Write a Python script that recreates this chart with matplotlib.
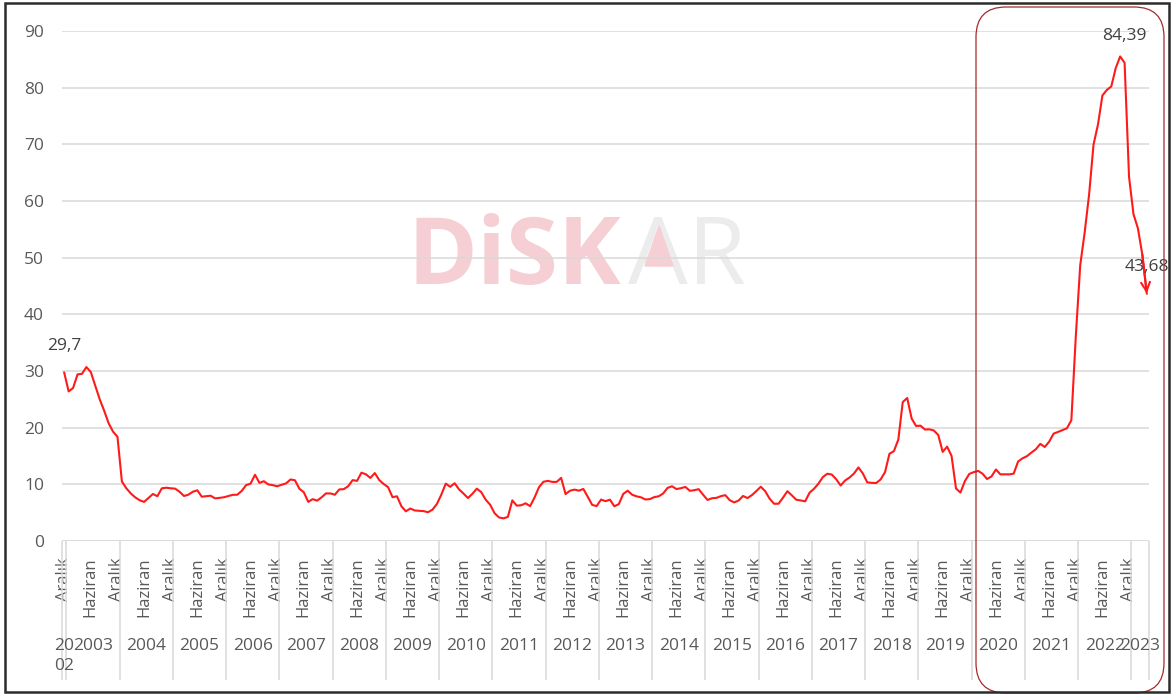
import numpy as np
import matplotlib
matplotlib.use('Agg')
import matplotlib.pyplot as plt
from matplotlib import rcParams
from matplotlib.patches import FancyBboxPatch, Rectangle, Polygon
from matplotlib.transforms import IdentityTransform

rcParams['font.family'] = ['Open Sans', 'DejaVu Sans']

## Annual CPI change (%), one list per year, Dec 2002 - Apr 2023
inf_2002 = [29.7]
inf_2003 = [26.4, 27.0, 29.4, 29.5, 30.7, 29.8, 27.4, 25.0, 23.0, 20.8, 19.3, 18.4]
inf_2004 = [10.5, 9.3, 8.4, 7.7, 7.2, 6.9, 7.6, 8.3, 7.9, 9.3, 9.4, 9.3]
inf_2005 = [9.24, 8.69, 7.94, 8.18, 8.70, 8.95, 7.82, 7.91, 7.99, 7.52, 7.61, 7.72]
inf_2006 = [7.93, 8.15, 8.16, 8.83, 9.86, 10.12, 11.69, 10.26, 10.55, 9.98, 9.86, 9.65]
inf_2007 = [9.93, 10.16, 10.86, 10.72, 9.23, 8.60, 6.90, 7.39, 7.12, 7.70, 8.40, 8.39]
inf_2008 = [8.17, 9.10, 9.15, 9.66, 10.74, 10.61, 12.06, 11.77, 11.13, 11.99, 10.76, 10.06]
inf_2009 = [9.50, 7.73, 7.89, 6.13, 5.24, 5.73, 5.39, 5.33, 5.27, 5.08, 5.53, 6.53]
inf_2010 = [8.19, 10.13, 9.56, 10.19, 9.10, 8.37, 7.58, 8.33, 9.24, 8.62, 7.29, 6.40]
inf_2011 = [4.90, 4.16, 3.99, 4.26, 7.17, 6.24, 6.31, 6.65, 6.15, 7.66, 9.48, 10.45]
inf_2012 = [10.61, 10.43, 10.43, 11.14, 8.28, 8.87, 9.07, 8.88, 9.19, 7.80, 6.37, 6.16]
inf_2013 = [7.31, 7.03, 7.29, 6.13, 6.51, 8.30, 8.88, 8.17, 7.88, 7.71, 7.32, 7.40]
inf_2014 = [7.75, 7.89, 8.39, 9.38, 9.66, 9.16, 9.32, 9.54, 8.86, 8.96, 9.15, 8.17]
inf_2015 = [7.24, 7.55, 7.61, 7.91, 8.09, 7.20, 6.81, 7.14, 7.95, 7.58, 8.10, 8.81]
inf_2016 = [9.58, 8.78, 7.46, 6.57, 6.58, 7.64, 8.79, 8.05, 7.28, 7.16, 7.00, 8.53]
inf_2017 = [9.22, 10.13, 11.29, 11.87, 11.72, 10.90, 9.79, 10.68, 11.20, 11.90, 12.98, 11.92]
inf_2018 = [10.35, 10.26, 10.23, 10.85, 12.15, 15.39, 15.85, 17.90, 24.52, 25.24, 21.62, 20.30]
inf_2019 = [20.35, 19.67, 19.71, 19.50, 18.71, 15.72, 16.65, 15.01, 9.26, 8.55, 10.56, 11.84]
inf_2020 = [12.15, 12.37, 11.86, 10.94, 11.39, 12.62, 11.76, 11.77, 11.75, 11.89, 14.03, 14.60]
inf_2021 = [14.97, 15.61, 16.19, 17.14, 16.59, 17.53, 18.95, 19.25, 19.58, 19.89, 21.31, 36.08]
inf_2022 = [48.69, 54.44, 61.14, 69.97, 73.50, 78.62, 79.60, 80.21, 83.45, 85.51, 84.39, 64.27]
inf_2023 = [57.68, 55.18, 50.51, 43.68]

years = list(range(2002, 2024))
yearly = [inf_2002, inf_2003, inf_2004, inf_2005, inf_2006, inf_2007, inf_2008,
          inf_2009, inf_2010, inf_2011, inf_2012, inf_2013, inf_2014, inf_2015,
          inf_2016, inf_2017, inf_2018, inf_2019, inf_2020, inf_2021, inf_2022,
          inf_2023]
month_labels = ['Aralık', 'Haziran']
labelled_points = [0, 239, 244]   # 29,7 / 84,39 / 43,68

values = np.concatenate(yearly)
x = np.arange(len(values))

gray = '#595959'
W, H = 1171, 695
fig = plt.figure(figsize=(W / 100, H / 100), dpi=100)
ax = fig.add_axes([62 / W, (H - 541) / H, (1149 - 62) / W, 510 / H])
ax.patch.set_visible(False)

## gridlines + series
ax.set_ylim(0, 90)
ax.set_xlim(-0.5, len(values) - 0.5)
ax.set_yticks(np.arange(0, 91, 10))
ax.yaxis.grid(True, color='#d9d9d9', lw=1.1)
ax.set_axisbelow(True)
for s in ax.spines.values():
    s.set_visible(False)
ax.axhline(0, color='#d9d9d9', lw=1.1, zorder=1)
ax.tick_params(axis='both', length=0, labelsize=12.5, labelcolor=gray)
ax.tick_params(axis='y', pad=13)

red = '#ff1a1a'
ax.plot(x, values, color=red, lw=1.5, zorder=3)
ax.annotate('', xy=(x[-1], values[-1]), xytext=(x[-2], values[-2]),
            arrowprops=dict(arrowstyle='->', color=red, lw=1.5,
                            mutation_scale=16, shrinkA=0, shrinkB=0), zorder=3)

for i in labelled_points:
    ax.annotate(('%g' % values[i]).replace('.', ','), xy=(x[i], values[i]),
                xytext=(0, 19), textcoords='offset points', ha='center',
                va='center', fontsize=12.5, color='#404040')

## month ticks every 6 months, starting at Dec 2002
ticks = np.arange(0, len(values) - 4, 6)
ax.set_xticks(ticks)
ax.set_xticklabels([month_labels[k % 2] for k in range(len(ticks))],
                   rotation=90, fontsize=12)
ax.tick_params(axis='x', pad=11.5)

## year groups: labels and separators
tr = ax.get_xaxis_transform()
start = 0
bounds = [-0.5]
for yr, vals in zip(years, yearly):
    idx = np.arange(start, start + len(vals))
    lab = str(yr) if len(vals) > 1 else str(yr)[:2] + '\n' + str(yr)[2:]
    ax.text(idx.mean(), -(638 - 541) / 510, lab, transform=tr, ha='center',
            va='top', fontsize=12.5, color=gray, linespacing=1.35)
    start += len(vals)
    bounds.append(start - 0.5)
ax.vlines(bounds, 0, -(680 - 541) / 510, transform=tr, color='#d9d9d9',
          lw=1.1, clip_on=False)

## watermark
pink = '#f5cfd3'
fig.text(407 / W, (H - 284) / H, 'DiSK', fontsize=68, fontweight='bold',
         color=pink, va='baseline', zorder=-2)
fig.text(628 / W, (H - 284) / H, 'AR', fontsize=68,
         color='#ececec', va='baseline', zorder=-2)
fig.add_artist(Polygon([[645, H - 266], [659, H - 226], [673, H - 266]],
                       closed=True, color=pink, transform=IdentityTransform(),
                       zorder=-1))

## highlight box + outer frame
fig.add_artist(FancyBboxPatch((976, 2), 188, 686,
                              boxstyle='round,pad=0,rounding_size=30',
                              fill=False, ec='#a52a2a', lw=0.9,
                              transform=IdentityTransform(), zorder=5))
fig.add_artist(Rectangle((5, 3), 1164, 689, fill=False, ec='#2b2b2b', lw=1.8,
                         transform=IdentityTransform(), zorder=6))

plt.savefig('out.png', dpi=100)
